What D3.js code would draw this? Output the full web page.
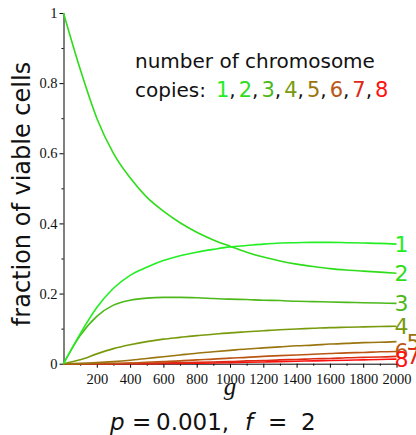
<!DOCTYPE html>
<html>
<head>
<meta charset="utf-8">
<script src="https://cdn.jsdelivr.net/npm/d3@7"></script>
<style>
  body { margin: 0; background: #fff; }
  svg { display: block; }
</style>
</head>
<body>
<div id="vis"></div>
<script>
// generations g (x values)
var gens = d3.range(0, 2001, 100);

// fraction of viable cells for each chromosome copy number
var copies1 = [0, 0.085, 0.16, 0.215, 0.252, 0.275, 0.294, 0.308, 0.318, 0.326, 0.333, 0.337, 0.341, 0.344, 0.345, 0.346, 0.346, 0.345, 0.344, 0.343, 0.341];
var copies2 = [1, 0.84, 0.70, 0.60, 0.53, 0.475, 0.435, 0.402, 0.375, 0.353, 0.335, 0.318, 0.304, 0.293, 0.284, 0.277, 0.271, 0.267, 0.264, 0.261, 0.258];
var copies3 = [0, 0.080, 0.135, 0.167, 0.181, 0.187, 0.189, 0.189, 0.188, 0.186, 0.184, 0.183, 0.181, 0.180, 0.178, 0.177, 0.176, 0.175, 0.174, 0.173, 0.172];
var copies4 = [0, 0.011, 0.028, 0.043, 0.054, 0.063, 0.070, 0.075, 0.080, 0.084, 0.088, 0.091, 0.094, 0.097, 0.099, 0.101, 0.103, 0.104, 0.105, 0.106, 0.107];
var copies5 = [0, 0.001, 0.003, 0.006, 0.010, 0.015, 0.020, 0.025, 0.030, 0.034, 0.038, 0.042, 0.045, 0.048, 0.051, 0.053, 0.056, 0.058, 0.060, 0.061, 0.063];
var copies6 = [0, 0, 0.0005, 0.001, 0.002, 0.004, 0.006, 0.008, 0.011, 0.013, 0.016, 0.018, 0.021, 0.023, 0.025, 0.027, 0.029, 0.031, 0.032, 0.034, 0.035];
var copies7 = [0, 0, 0, 0, 0.001, 0.001, 0.002, 0.003, 0.004, 0.005, 0.006, 0.008, 0.009, 0.011, 0.012, 0.014, 0.015, 0.017, 0.018, 0.019, 0.021];
var copies8 = [0, 0, 0, 0, 0, 0, 0.0005, 0.001, 0.0015, 0.002, 0.003, 0.004, 0.005, 0.006, 0.007, 0.008, 0.009, 0.010, 0.011, 0.012, 0.013];

var seriesNames = ["1", "2", "3", "4", "5", "6", "7", "8"];
var seriesValues = [copies1, copies2, copies3, copies4, copies5, copies6, copies7, copies8];
var seriesColors = ["#22ee22", "#2edd1a", "#4cb81a", "#789a0c", "#9a740e", "#bb5514", "#dd2a14", "#ff1010"];

var xTicks = d3.range(200, 2001, 200);
var xMinorTicks = d3.range(100, 2000, 200);
var yTicks = [0, 0.2, 0.4, 0.6, 0.8, 1];
var yMinorTicks = [0.1, 0.3, 0.5, 0.7, 0.9];

var W = 416, H = 435;

var svg = d3.select("#vis").append("svg")
  .attr("width", W)
  .attr("height", H);

var x = d3.scaleLinear().domain([0, 2000]).range([63.5, 396.5]);
var y = d3.scaleLinear().domain([0, 1]).range([363.7, 13]);

var tickFont = "'Liberation Serif', 'Times New Roman', serif";
var sansFont = "'DejaVu Sans', Verdana, sans-serif";

// axes
svg.append("g")
  .attr("transform", "translate(0," + y(0) + ")")
  .call(d3.axisBottom(x).tickValues(xTicks).tickSize(4).tickPadding(6).tickSizeOuter(0)
    .tickFormat(d3.format("d")));
svg.append("g")
  .attr("transform", "translate(0," + y(0) + ")")
  .call(d3.axisBottom(x).tickValues(xMinorTicks).tickSize(2).tickFormat("").tickSizeOuter(0))
  .select(".domain").remove();

svg.append("g")
  .attr("transform", "translate(" + x(0) + ",0)")
  .call(d3.axisLeft(y).tickValues(yTicks).tickSize(4).tickPadding(2).tickSizeOuter(0)
    .tickFormat(function(d) { return String(+d.toFixed(1)); }));
svg.append("g")
  .attr("transform", "translate(" + x(0) + ",0)")
  .call(d3.axisLeft(y).tickValues(yMinorTicks).tickSize(2).tickFormat("").tickSizeOuter(0))
  .select(".domain").remove();

svg.selectAll(".tick text")
  .style("font-family", tickFont)
  .style("font-size", "14.5px")
  .attr("fill", "#111");
svg.selectAll(".domain").attr("stroke", "#000");

// curves
var line = d3.line()
  .x(function(d, i) { return x(gens[i]); })
  .y(function(d) { return y(d); })
  .curve(d3.curveMonotoneX);

svg.append("g").selectAll("path")
  .data(seriesValues.slice().reverse())
  .join("path")
  .attr("d", line)
  .attr("fill", "none")
  .attr("stroke", function(d) { return seriesColors[seriesValues.indexOf(d)]; })
  .attr("stroke-width", 1.6);

// end labels
var labelDx = [-2, -2, -2, -2, 10, -2, 10, -2];
svg.append("g").selectAll("text")
  .data(seriesNames)
  .join("text")
  .attr("x", function(d, i) { return x(2000) + labelDx[i]; })
  .attr("y", function(d, i) { return y(seriesValues[i][seriesValues[i].length - 1]); })
  .attr("dy", "0.36em")
  .attr("fill", function(d, i) { return seriesColors[i]; })
  .style("font-family", sansFont)
  .style("font-size", "22px")
  .text(function(d) { return d; });

// legend
var legend = svg.append("g")
  .style("font-family", sansFont)
  .style("font-size", "20px")
  .attr("fill", "#111");
legend.append("text")
  .attr("x", 135).attr("y", 68)
  .text("number of chromosome");
var leg2 = legend.append("text")
  .attr("x", 135).attr("y", 97);
leg2.append("tspan").text("copies:");
seriesNames.forEach(function(n, i) {
  leg2.append("tspan")
    .attr("dx", i === 0 ? 10 : 3)
    .attr("fill", seriesColors[i])
    .style("font-size", "21px")
    .text(n);
  if (i < seriesNames.length - 1) leg2.append("tspan").text(",");
});

// axis labels
svg.append("text")
  .attr("transform", "translate(30," + 194 + ") rotate(-90)")
  .attr("text-anchor", "middle")
  .style("font-family", sansFont)
  .style("font-size", "24px")
  .attr("fill", "#111")
  .text("fraction of viable cells");

svg.append("text")
  .attr("x", 230).attr("y", 395)
  .attr("text-anchor", "middle")
  .style("font-family", tickFont)
  .style("font-style", "italic")
  .style("font-size", "25px")
  .attr("fill", "#111")
  .text("g");

// parameters caption
var cap = svg.append("text")
  .attr("y", 430)
  .style("font-family", sansFont)
  .style("font-size", "23px")
  .attr("fill", "#111");
cap.append("tspan").attr("x", 110).style("font-style", "italic").text("p");
cap.append("tspan").attr("x", 132).text("=");
cap.append("tspan").attr("x", 156).text("0.001,");
cap.append("tspan").attr("x", 245).style("font-style", "italic").text("f");
cap.append("tspan").attr("x", 268).text("=");
cap.append("tspan").attr("x", 301).text("2");
</script>
</body>
</html>
